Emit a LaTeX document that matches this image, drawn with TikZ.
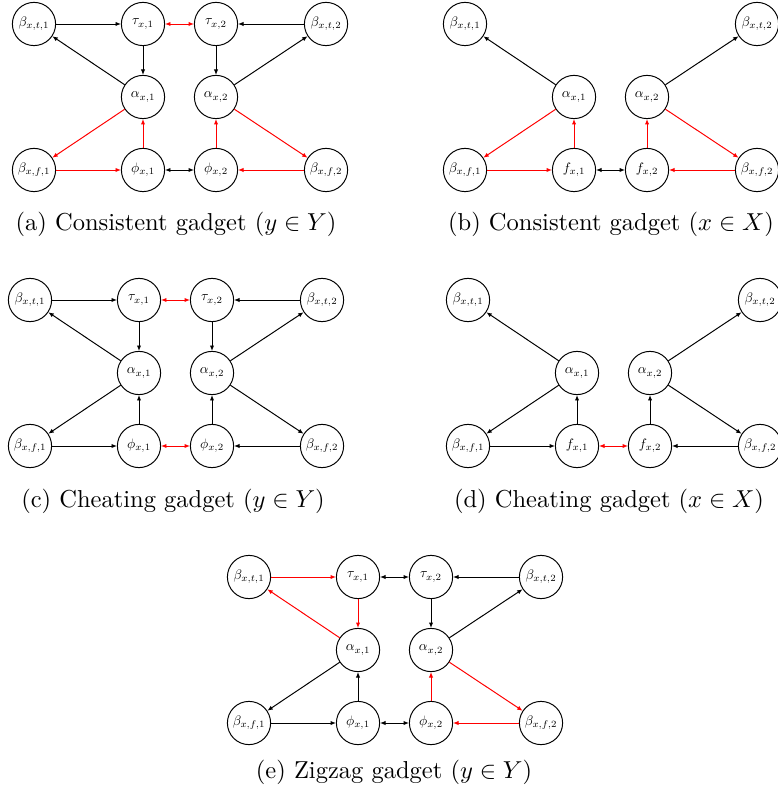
\documentclass[tikz,border=0pt]{standalone}
\usetikzlibrary{arrows.meta}

\tikzset{
  vtx/.style={draw, circle, minimum size=0.62cm, inner sep=0pt},
  tip/.tip={Latex[length=2.2pt,width=1.8pt]},
  e/.style={-tip, black},
  er/.style={-tip, red},
  ee/.style={tip-tip, black},
  eer/.style={tip-tip, red},
  subcap/.style={anchor=base},
}

% knoten eines gadgets fuer y (mit tau)
\newcommand{\ynodes}{%
  \foreach \n/\x/\y/\l in {bt1/0/0/{\beta_{x,t,1}}, t1/109/0/{\tau_{x,1}}, t2/182/0/{\tau_{x,2}}, bt2/292/0/{\beta_{x,t,2}},
      a1/109/73/{\alpha_{x,1}}, a2/182/73/{\alpha_{x,2}},
      bf1/0/146/{\beta_{x,f,1}}, p1/109/146/{\phi_{x,1}}, p2/182/146/{\phi_{x,2}}, bf2/292/146/{\beta_{x,f,2}}}
    \node[vtx] (\n) at (\x,\y) {\scalebox{0.56}{$\l$}};}

% knoten eines gadgets fuer x (ohne tau)
\newcommand{\xnodes}{%
  \foreach \n/\x/\y/\l in {bt1/0/0/{\beta_{x,t,1}}, bt2/292/0/{\beta_{x,t,2}},
      a1/109/73/{\alpha_{x,1}}, a2/182/73/{\alpha_{x,2}},
      bf1/0/146/{\beta_{x,f,1}}, f1/109/146/{f_{x,1}}, f2/182/146/{f_{x,2}}, bf2/292/146/{\beta_{x,f,2}}}
    \node[vtx] (\n) at (\x,\y) {\scalebox{0.56}{$\l$}};}

\begin{document}
\begin{tikzpicture}[x=0.01434cm, y=-0.01434cm]
  \useasboundingbox (0,0) rectangle (777,798);

  % (a)
  \begin{scope}[shift={(34,24)}, name prefix=a-]
    \ynodes
    \foreach \s/\t/\k in {bt1/t1/e, bt2/t2/e, t1/a1/e, t2/a2/e, a1/bt1/e, a2/bt2/e,
        a1/bf1/er, a2/bf2/er, p1/a1/er, p2/a2/er, bf1/p1/er, bf2/p2/er, t1/t2/eer, p1/p2/ee}
      \draw[\k] (\s) -- (\t);
    \node[subcap] (cap) at (142,207) {(a) Consistent gadget ($y \in Y$)};
  \end{scope}

  % (b)
  \begin{scope}[shift={(465,24)}, name prefix=b-]
    \xnodes
    \foreach \s/\t/\k in {a1/bt1/e, a2/bt2/e, a1/bf1/er, a2/bf2/er,
        f1/a1/er, f2/a2/er, bf1/f1/er, bf2/f2/er, f1/f2/ee}
      \draw[\k] (\s) -- (\t);
    \node[subcap] (cap) at (146,207) {(b) Consistent gadget ($x \in X$)};
  \end{scope}

  % (c)
  \begin{scope}[shift={(30,300)}, name prefix=c-]
    \ynodes
    \foreach \s/\t/\k in {bt1/t1/e, bt2/t2/e, t1/a1/e, t2/a2/e, a1/bt1/e, a2/bt2/e,
        a1/bf1/e, a2/bf2/e, p1/a1/e, p2/a2/e, bf1/p1/e, bf2/p2/e, t1/t2/eer, p1/p2/eer}
      \draw[\k] (\s) -- (\t);
    \node[subcap] (cap) at (143,207) {(c) Cheating gadget ($y \in Y$)};
  \end{scope}

  % (d)
  \begin{scope}[shift={(468,300)}, name prefix=d-]
    \xnodes
    \foreach \s/\t/\k in {a1/bt1/e, a2/bt2/e, a1/bf1/e, a2/bf2/e,
        f1/a1/e, f2/a2/e, bf1/f1/e, bf2/f2/e, f1/f2/eer}
      \draw[\k] (\s) -- (\t);
    \node[subcap] (cap) at (141,207) {(d) Cheating gadget ($x \in X$)};
  \end{scope}

  % (e)
  \begin{scope}[shift={(249,577)}, name prefix=e-]
    \ynodes
    \foreach \s/\t/\k in {bt1/t1/er, bt2/t2/e, t1/a1/er, t2/a2/e, a1/bt1/er, a2/bt2/e,
        a1/bf1/e, a2/bf2/er, p1/a1/e, p2/a2/er, bf1/p1/e, bf2/p2/er, t1/t2/ee, p1/p2/ee}
      \draw[\k] (\s) -- (\t);
    \node[subcap] (cap) at (145,201) {(e) Zigzag gadget ($y \in Y$)};
  \end{scope}
\end{tikzpicture}
\end{document}
